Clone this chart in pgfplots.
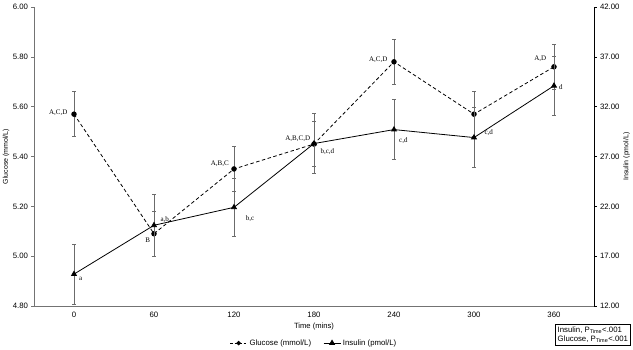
\documentclass[border=0pt]{standalone}
\usepackage{fontspec}
\setmainfont{Liberation Sans}
\newfontfamily\serifnote{Liberation Serif}
\usepackage{pgfplots}
\usepackage{pgfplotstable}
\pgfplotsset{compat=1.18}

\definecolor{axisgray}{gray}{0.45}
\definecolor{bargray}{gray}{0.42}

% Glucose (mmol/L): mean and error
\pgfplotstableread{
t   g     e
0   5.57  0.09
60  5.09  0.09
120 5.35  0.09
180 5.45  0.09
240 5.78  0.09
300 5.57  0.09
360 5.76  0.09
}\glucose

% Insulin (pmol/L): mean and error
\pgfplotstableread{
t   i     e
0   15.2  3.0
60  20.1  3.1
120 21.9  2.9
180 28.3  3.0
240 29.7  3.0
300 28.9  3.0
360 34.1  3.0
}\insulin

\pgfplotsset{
  common/.style={
    at={(0,0)}, anchor=south west,
    scale only axis, width=560pt, height=299pt,
    xmin=-30, xmax=390, clip=false,
    tick label style={font=\fontsize{7.8}{9}\selectfont},
    label style={font=\fontsize{7.6}{9}\selectfont},
    /pgf/number format/assume math mode=true,
    tick align=outside,
    major tick length=2.5pt,
  },
}
\tikzset{note/.style={font=\serifnote\fontsize{7}{8}\selectfont, inner sep=1pt}}

\begin{document}
\begin{tikzpicture}
\path[use as bounding box] (-34pt,-43pt) rectangle (599pt,306pt);

\begin{axis}[
  common,
  ymin=4.8, ymax=6.0,
  axis y line*=left, axis x line*=bottom,
  axis line style={axisgray, line width=0.9pt, -},
  xtick={0,60,120,180,240,300,360},
  x tick style={draw=none},
  y tick style={axisgray, line width=0.5pt},
  ytick={4.8,5.0,5.2,5.4,5.6,5.8,6.0},
  yticklabel style={/pgf/number format/.cd, fixed, fixed zerofill, precision=2},
  ylabel={Glucose (mmol/L)},
  ylabel style={at={(axis description cs:-0.05,0.5)}, anchor=center,
    font=\fontsize{7}{8}\selectfont},
  xlabel={Time (mins)},
  xlabel style={at={(axis description cs:0.5,-0.067)}, anchor=center},
]
\addplot[black, line width=0.8pt, dash pattern=on 3.5pt off 2.5pt,
  mark=*, mark size=2.3pt, mark options={solid},
  error bars/.cd, y dir=both, y explicit,
  error bar style={bargray, solid, line width=0.7pt},
  error mark options={rotate=90, bargray, solid, mark size=1.6pt, line width=0.5pt}]
  table[x=t, y=g, y error=e] {\glucose};

\node[note, anchor=east] at (axis cs:-4,5.575) {A,C,D};
\node[note, anchor=north east] at (axis cs:58,5.08) {B};
\node[note, anchor=south east] at (axis cs:117,5.355) {A,B,C};
\node[note, anchor=south east] at (axis cs:178,5.455) {A,B,C,D};
\node[note, anchor=east] at (axis cs:236,5.79) {A,C,D};
\node[note, anchor=south east] at (axis cs:355,5.775) {A,D};
\end{axis}

\begin{axis}[
  common,
  ymin=12, ymax=42,
  axis y line*=right, axis x line=none,
  axis line style={black, line width=0.9pt, -},
  y tick style={black, line width=0.5pt},
  ytick={12,17,22,27,32,37,42},
  yticklabel style={/pgf/number format/.cd, fixed, fixed zerofill, precision=2},
  ylabel={Insulin (pmol/L)},
  ylabel style={at={(axis description cs:1.058,0.5)}, anchor=center,
    font=\fontsize{7}{8}\selectfont},
  legend style={at={(axis description cs:0.5,-0.124)}, anchor=center, draw=none,
    font=\fontsize{7.8}{9}\selectfont, legend columns=2,
    /tikz/every even column/.append style={column sep=10pt}},
  legend image code/.code={
    \draw[mark repeat=2, mark phase=2, #1] plot coordinates {(0cm,0cm) (0.3cm,0cm) (0.6cm,0cm)};},
]
\addlegendimage{black, line width=0.8pt, dash pattern=on 2.5pt off 2pt,
  mark=*, mark size=1.8pt, mark options={solid}}
\addlegendentry{Glucose (mmol/L)}

\addplot[black, line width=0.8pt, solid,
  mark=triangle*, mark size=2.8pt,
  error bars/.cd, y dir=both, y explicit,
  error bar style={bargray, line width=0.7pt},
  error mark options={rotate=90, bargray, mark size=1.6pt, line width=0.5pt}]
  table[x=t, y=i, y error=e] {\insulin};
\addlegendentry{Insulin (pmol/L)}

\node[note, anchor=north west] at (axis cs:3,15.0) {a};
\node[note, anchor=south west] at (axis cs:64,20.3) {a,b};
\node[note, anchor=north west] at (axis cs:128,21.2) {b,c};
\node[note, anchor=north west] at (axis cs:184,27.9) {b,c,d};
\node[note, anchor=north west] at (axis cs:243,29.0) {c,d};
\node[note, anchor=west] at (axis cs:307,29.4) {c,d};
\node[note, anchor=north west] at (axis cs:363,34.3) {d};

\node[draw=black, line width=0.6pt, align=left, inner sep=2.5pt,
  font=\fontsize{7.8}{9}\selectfont, anchor=center]
  at (rel axis cs:0.998,-0.097)
  {Insulin, P\textsubscript{Time}<.001\\Glucose, P\textsubscript{Time}<.001};
\end{axis}
\end{tikzpicture}
\end{document}
